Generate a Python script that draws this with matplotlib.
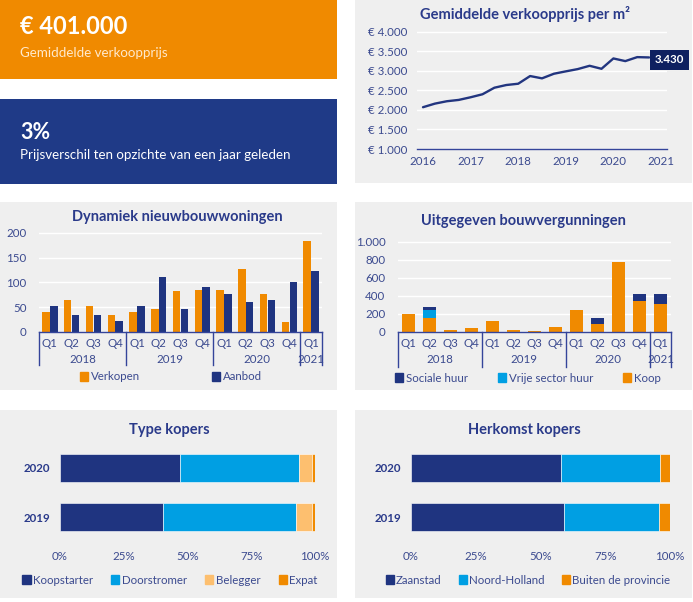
import matplotlib
matplotlib.use('Agg')
import matplotlib.pyplot as plt
from matplotlib.patches import Patch
from matplotlib.transforms import blended_transform_factory
import numpy as np

plt.rcParams['font.family'] = ['Lato', 'DejaVu Sans']

# ---------------- data ----------------
kpi_price = '€ 401.000'
kpi_price_label = 'Gemiddelde verkoopprijs'
kpi_change = '3%'
kpi_change_label = 'Prijsverschil ten opzichte van een jaar geleden'

price_x = [2016.0, 2016.25, 2016.5, 2016.75, 2017.0, 2017.25, 2017.5, 2017.75,
           2018.0, 2018.25, 2018.5, 2018.75, 2019.0, 2019.25, 2019.5, 2019.75,
           2020.0, 2020.25, 2020.5, 2020.75]
price_m2 = [2071, 2163, 2224, 2258, 2326, 2403, 2571, 2640,
            2673, 2870, 2811, 2929, 2990, 3048, 3133, 3056,
            3321, 3253, 3355, 3347]
price_last_label = '3.430'
price_yticks = [1000, 1500, 2000, 2500, 3000, 3500, 4000]
price_xticks = [2016, 2017, 2018, 2019, 2020, 2021]

quarters = ['Q1', 'Q2', 'Q3', 'Q4', 'Q1', 'Q2', 'Q3', 'Q4', 'Q1', 'Q2', 'Q3', 'Q4', 'Q1']
year_groups = ['2018', '2019', '2020', '2021']
year_group_sizes = [4, 4, 4, 1]

verkopen = [41, 64, 52, 34, 41, 47, 83, 84, 84, 127, 76, 20, 184]
aanbod = [52, 35, 34, 23, 52, 112, 46, 90, 77, 61, 65, 100, 124]

koop = [197, 156, 18, 44, 118, 26, 6, 52, 244, 89, 781, 344, 311]
vrije_sector = [0, 92, 0, 0, 0, 0, 0, 0, 0, 0, 0, 0, 0]
sociale_huur = [0, 26, 0, 0, 0, 0, 8, 0, 0, 67, 0, 78, 111]

bar_years = ['2019', '2020']
koopstarter = [40.3, 47.0]
doorstromer = [52.2, 46.7]
belegger = [6.3, 5.1]
expat = [1.2, 1.2]

zaanstad = [58.9, 58.0]
noord_holland = [36.7, 38.0]
buiten_provincie = [4.4, 4.0]

pct_ticks = [0, 25, 50, 75, 100]

# ---------------- style ----------------
ORANGE = '#F08A00'
BLUEPANEL = '#1F3A87'
NAVY = '#1F3480'
CYAN = '#009FE3'
LIGHTOR = '#FDBF6F'
BG = '#EFEFEF'
TXT = '#2A3A8A'
TICK = '#3B4A8F'
AXC = '#34449A'

W, H = 693, 602
fig = plt.figure(figsize=(W / 100, H / 100), dpi=100)
fig.patch.set_facecolor('white')


def fr(x0, y0, x1, y1):
    return [x0 / W, 1 - y1 / H, (x1 - x0) / W, (y1 - y0) / H]


def panel(x0, y0, x1, y1, color):
    ax = fig.add_axes(fr(x0, y0, x1, y1))
    ax.set_facecolor(color)
    ax.set_xticks([])
    ax.set_yticks([])
    for s in ax.spines.values():
        s.set_visible(False)
    return ax


def title(x, y, s):
    fig.text(x / W, 1 - y / H, s, ha='center', va='center', fontsize=10.5,
             fontweight='bold', color=TXT)


# KPI panels
p1 = panel(0, 0, 337, 79, ORANGE)
p1.text(20 / 337, 0.66, kpi_price, transform=p1.transAxes, ha='left', va='center',
        fontsize=17, fontweight='bold', color='white')
p1.text(20 / 337, 0.33, kpi_price_label, transform=p1.transAxes, ha='left', va='center',
        fontsize=9.6, color='#FFE9CC')

p2 = panel(0, 99, 337, 184, BLUEPANEL)
p2.text(20 / 337, 0.61, kpi_change, transform=p2.transAxes, ha='left', va='center',
        fontsize=15.5, fontweight='bold', color='white')
p2.text(20 / 337, 0.34, kpi_change_label, transform=p2.transAxes, ha='left', va='center',
        fontsize=9.6, color='white')

# other panels
panel(355, 0, 692, 183, BG)
panel(0, 202, 337, 390, BG)
panel(355, 202, 692, 390, BG)
panel(0, 410, 337, 598, BG)
panel(355, 410, 692, 598, BG)


def style_axes(ax):
    ax.set_facecolor('none')
    for k in ['top', 'right', 'left']:
        ax.spines[k].set_visible(False)
    ax.spines['bottom'].set_color(AXC)
    ax.spines['bottom'].set_linewidth(1)
    ax.tick_params(axis='both', length=0, labelsize=8.3, labelcolor=TICK)


def dutch(v):
    return f'{v:,.0f}'.replace(',', '.')


# ---------------- line chart ----------------
title(525, 14, 'Gemiddelde verkoopprijs per m²')
axL = fig.add_axes(fr(417, 30.4, 667, 149))
style_axes(axL)
axL.plot(price_x, price_m2, color='#22357F', lw=1.7, solid_capstyle='round', zorder=3)
axL.set_xlim(2016 - 6 / 47.6, 2021 + 6 / 47.6)
axL.set_ylim(1000, 4040)
axL.set_yticks(price_yticks, ['€ ' + dutch(v) for v in price_yticks])
axL.set_xticks(price_xticks, [str(v) for v in price_xticks])
axL.tick_params(axis='y', pad=7)
axL.tick_params(axis='x', pad=5)
axL.grid(axis='y', color='white', lw=1)
axL.set_axisbelow(True)
axL.annotate(price_last_label, xy=(price_x[-1], price_m2[-1]), xytext=(14.8, -1.7),
             textcoords='offset points', ha='center', va='center', fontsize=8.3,
             fontweight='bold', color='white', annotation_clip=False, zorder=5,
             bbox=dict(boxstyle='square,pad=0.4', fc='#0E2060', ec='none'))


def group_axis(ax, sep_bottom, year_y):
    trans = blended_transform_factory(ax.transData, ax.transAxes)
    edges = np.concatenate([[0], np.cumsum(year_group_sizes)]) - 0.5
    for e in edges:
        ax.plot([e, e], [0, sep_bottom], transform=trans, clip_on=False, color=AXC, lw=1)
    for i, lab in enumerate(year_groups):
        c = (edges[i] + edges[i + 1]) / 2
        ax.text(c, year_y, lab, transform=trans, ha='center', va='center',
                fontsize=8.3, color=TICK)


# ---------------- bar chart 1 ----------------
title(177, 217, 'Dynamiek nieuwbouwwoningen')
ax1 = fig.add_axes(fr(39, 232, 322, 332))
style_axes(ax1)
x = np.arange(len(quarters))
ax1.bar(x - 0.18, verkopen, 0.34, color=ORANGE, zorder=2)
ax1.bar(x + 0.18, aanbod, 0.34, color=NAVY, zorder=2)
ax1.set_xlim(-0.5, len(quarters) - 0.5)
ax1.set_ylim(0, 202)
ax1.set_yticks([0, 50, 100, 150, 200])
ax1.set_xticks(x, quarters)
ax1.tick_params(axis='y', pad=9)
ax1.tick_params(axis='x', pad=4)
ax1.grid(axis='y', color='white', lw=1)
ax1.set_axisbelow(True)
group_axis(ax1, -0.333, -0.272)
ax1.legend(handles=[Patch(color=ORANGE, label='Verkopen'), Patch(color=NAVY, label='Aanbod')],
           loc='center', bbox_to_anchor=(171 / W, 1 - 377 / H), bbox_transform=fig.transFigure,
           ncol=2, frameon=False, handlelength=0.7, handleheight=0.7, handletextpad=0.25,
           columnspacing=6.3, fontsize=8.3, labelcolor=TICK, borderaxespad=0)

# ---------------- bar chart 2 ----------------
title(523, 221, 'Uitgegeven bouwvergunningen')
ax2 = fig.add_axes(fr(398, 240.2, 671, 332))
style_axes(ax2)
koop_a = np.array(koop)
vrij_a = np.array(vrije_sector)
soc_a = np.array(sociale_huur)
ax2.bar(x, koop_a, 0.66, color=ORANGE, zorder=2)
ax2.bar(x, vrij_a, 0.66, bottom=koop_a, color=CYAN, zorder=2)
ax2.bar(x, soc_a, 0.66, bottom=koop_a + vrij_a, color=NAVY, zorder=2)
ax2.set_xlim(-0.5, len(quarters) - 0.5)
ax2.set_ylim(0, 1020)
yt2 = [0, 200, 400, 600, 800, 1000]
ax2.set_yticks(yt2, [dutch(v) for v in yt2])
ax2.set_xticks(x, quarters)
ax2.tick_params(axis='y', pad=9)
ax2.tick_params(axis='x', pad=4)
ax2.grid(axis='y', color='white', lw=1)
ax2.set_axisbelow(True)
group_axis(ax2, -0.378, -0.30)
ax2.legend(handles=[Patch(color=NAVY, label='Sociale huur'), Patch(color=CYAN, label='Vrije sector huur'),
                    Patch(color=ORANGE, label='Koop')],
           loc='center', bbox_to_anchor=(528 / W, 1 - 378 / H), bbox_transform=fig.transFigure,
           ncol=3, frameon=False, handlelength=0.7, handleheight=0.7, handletextpad=0.25,
           columnspacing=2.6, fontsize=8.3, labelcolor=TICK, borderaxespad=0)


# ---------------- horizontal stacked bars ----------------
def hstack(box, series, colors, labels, leg_center, colsp):
    ax = fig.add_axes(fr(*box))
    ax.set_facecolor('none')
    for s in ax.spines.values():
        s.set_visible(False)
    y = np.arange(len(bar_years))
    left = np.zeros(len(bar_years))
    for vals, c in zip(series, colors):
        ax.barh(y, vals, left=left, height=0.59, color=c, edgecolor='white', linewidth=0.4)
        left += np.array(vals)
    ax.set_xlim(0, 100)
    ax.set_ylim(-0.5, 1.5)
    ax.set_xticks(pct_ticks, [f'{v}%' for v in pct_ticks])
    ax.set_yticks(y, bar_years)
    ax.tick_params(axis='both', length=0, labelsize=8.3, labelcolor=TICK)
    ax.tick_params(axis='x', pad=7)
    ax.tick_params(axis='y', pad=7)
    for t in ax.get_yticklabels():
        t.set_fontweight('bold')
        t.set_color(TXT)
    ax.legend(handles=[Patch(color=c, label=l) for c, l in zip(colors, labels)],
              loc='center', bbox_to_anchor=(leg_center[0] / W, 1 - leg_center[1] / H),
              bbox_transform=fig.transFigure, ncol=len(labels), frameon=False,
              handlelength=0.7, handleheight=0.7, handletextpad=0.2,
              columnspacing=colsp, fontsize=8.3, labelcolor=TICK, borderaxespad=0)
    return ax


title(169, 430, 'Type kopers')
hstack((60, 443.5, 315, 541.5), [koopstarter, doorstromer, belegger, expat],
       [NAVY, CYAN, LIGHTOR, ORANGE], ['Koopstarter', 'Doorstromer', 'Belegger', 'Expat'],
       (170, 580), 1.6)

title(524, 430, 'Herkomst kopers')
hstack((411, 443.5, 670, 541.5), [zaanstad, noord_holland, buiten_provincie],
       [NAVY, CYAN, ORANGE], ['Zaanstad', 'Noord-Holland', 'Buiten de provincie'],
       (528, 580), 1.5)

fig.savefig('out.png', dpi=100, facecolor='white')
